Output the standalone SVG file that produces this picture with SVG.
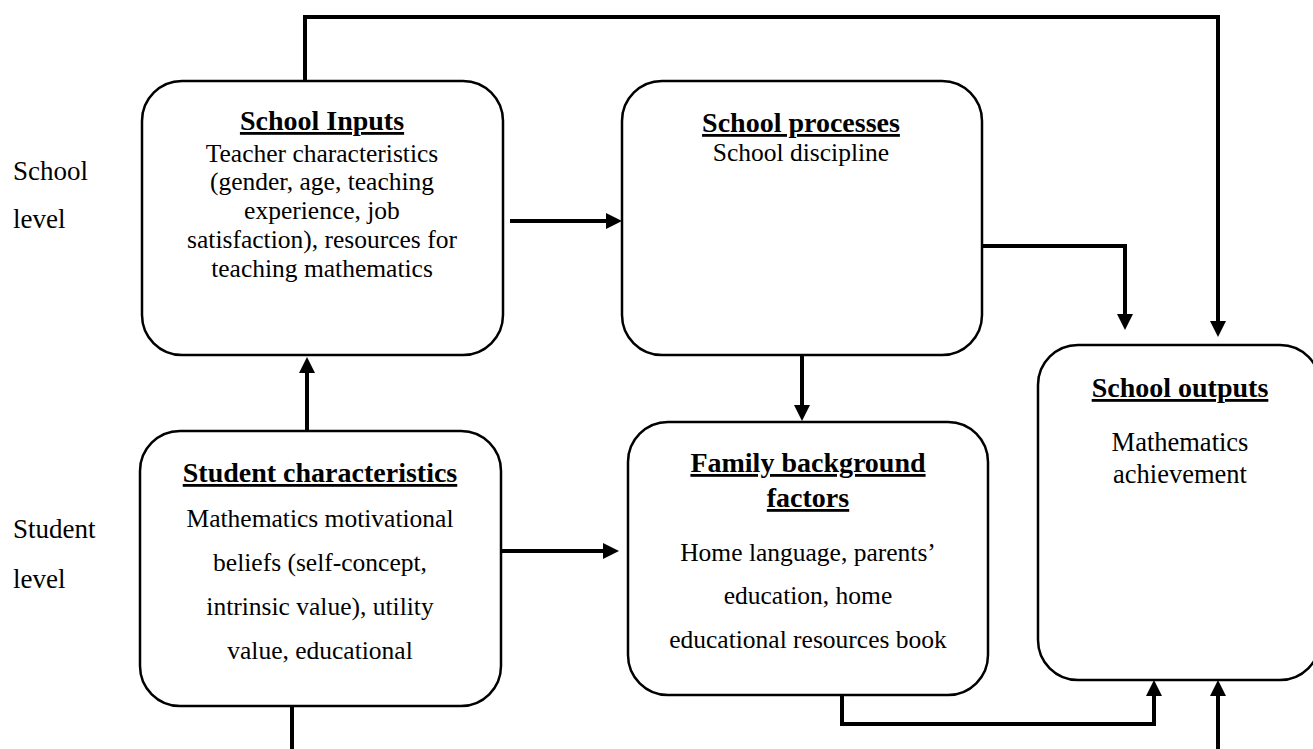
<svg xmlns="http://www.w3.org/2000/svg" width="1313" height="749" viewBox="0 0 1313 749">
<style>
.box{fill:#fff;stroke:#000;stroke-width:2.5}
.t{font-family:"Liberation Serif","Times New Roman",serif;fill:#000;text-anchor:middle}
.title{font-size:28px;font-weight:bold;text-decoration:underline}
.body{font-size:25.5px}
.lbl{font-family:"Liberation Serif","Times New Roman",serif;font-size:27px;fill:#000}
.c{fill:none;stroke:#000;stroke-width:4}
</style>
<defs>
<marker id="ah" markerUnits="userSpaceOnUse" markerWidth="16" markerHeight="16" refX="12" refY="8" orient="auto">
<path d="M0,0 L16,8 L0,16 z" fill="#000"/>
</marker>
</defs>
<g id="labels">
<text class="lbl" x="13" y="180">School</text>
<text class="lbl" x="13" y="228">level</text>
<text class="lbl" x="13" y="538">Student</text>
<text class="lbl" x="13" y="588">level</text>
</g>
<g id="connectors">
<path class="c" d="M305,81 V17 H1218 V333" marker-end="url(#ah)"/>
<path class="c" d="M510,221 H618" marker-end="url(#ah)"/>
<path class="c" d="M982,246 H1125 V326" marker-end="url(#ah)"/>
<path class="c" d="M802,355 V417" marker-end="url(#ah)"/>
<path class="c" d="M307,431 V361" marker-end="url(#ah)"/>
<path class="c" d="M501,551 H615" marker-end="url(#ah)"/>
<path class="c" d="M292,706 V749"/>
<path class="c" d="M842,695 V724 H1154 V684" marker-end="url(#ah)"/>
<path class="c" d="M1218,749 V684" marker-end="url(#ah)"/>
</g>
<g id="school-inputs">
<rect class="box" x="142" y="81" width="361" height="274" rx="40"/>
<text class="t title" x="322" y="130">School Inputs</text>
<text class="t body" x="322" y="162">Teacher characteristics</text>
<text class="t body" x="322" y="190">(gender, age, teaching</text>
<text class="t body" x="322" y="219">experience, job</text>
<text class="t body" x="322" y="248">satisfaction), resources for</text>
<text class="t body" x="322" y="277">teaching mathematics</text>
</g>
<g id="school-processes">
<rect class="box" x="622" y="81" width="360" height="274" rx="40"/>
<text class="t title" x="801" y="132">School processes</text>
<text class="t body" x="801" y="161">School discipline</text>
</g>
<g id="student-characteristics">
<rect class="box" x="140" y="431" width="361" height="275" rx="40"/>
<text class="t title" x="320" y="482">Student characteristics</text>
<text class="t body" x="320" y="527">Mathematics motivational</text>
<text class="t body" x="320" y="571">beliefs (self-concept,</text>
<text class="t body" x="320" y="615">intrinsic value), utility</text>
<text class="t body" x="320" y="659">value, educational</text>
</g>
<g id="family-background">
<rect class="box" x="628" y="422" width="360" height="273" rx="40"/>
<text class="t title" x="808" y="472">Family background</text>
<text class="t title" x="808" y="507">factors</text>
<text class="t body" x="808" y="561">Home language, parents’</text>
<text class="t body" x="808" y="604">education, home</text>
<text class="t body" x="808" y="648">educational resources book</text>
</g>
<g id="school-outputs">
<rect class="box" x="1038" y="345" width="282" height="335" rx="40"/>
<text class="t title" x="1180" y="397">School outputs</text>
<text class="t body" x="1180" y="451" style="font-size:26.5px">Mathematics</text>
<text class="t body" x="1180" y="483" style="font-size:26.5px">achievement</text>
</g>
</svg>
